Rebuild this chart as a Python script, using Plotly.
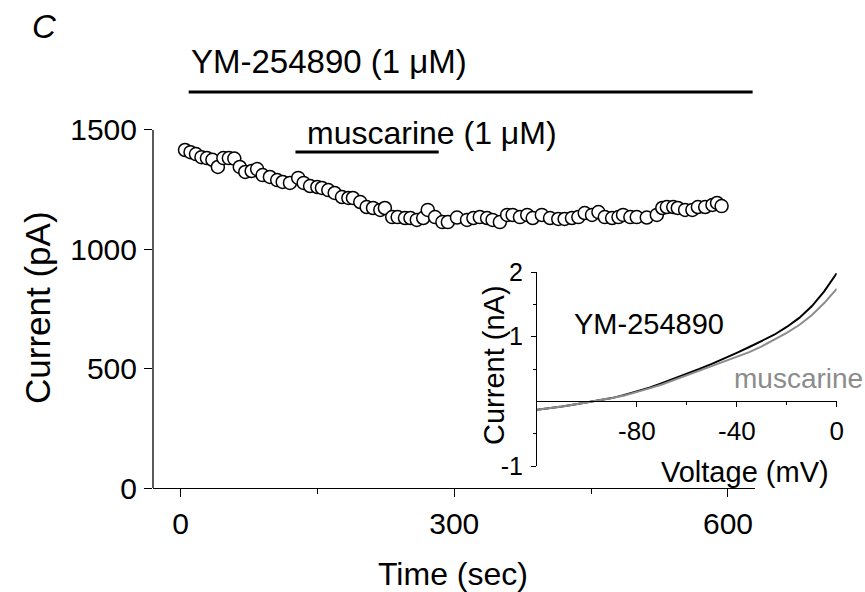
import plotly.graph_objects as go

# ---------------- data ----------------
time_s = [5, 11, 17, 23, 29, 35, 41, 47, 53, 59, 65, 71, 78, 84, 90, 98, 106, 112, 120, 129,
          135, 142, 150, 155, 162, 169, 177, 184, 189, 197, 204, 211, 219, 224, 232, 238, 246, 252, 259, 266,
          271, 279, 287, 293, 303, 314, 321, 328, 336, 342, 350, 358, 364, 372, 380, 386, 396, 405, 414, 421,
          429, 436, 443, 451, 458, 465, 473, 480, 485, 493, 500, 511, 522, 528, 533, 540, 545, 553, 561, 567,
          575, 583, 588, 593]
current_pA = [1416, 1407, 1399, 1386, 1382, 1375, 1345, 1382, 1382, 1380, 1345, 1324, 1328, 1336, 1311, 1303, 1290, 1282, 1278, 1299,
              1278, 1265, 1261, 1257, 1248, 1236, 1219, 1215, 1215, 1198, 1177, 1173, 1165, 1173, 1135, 1135, 1131, 1131, 1123, 1131,
              1165, 1135, 1114, 1114, 1133, 1123, 1131, 1135, 1131, 1123, 1114, 1144, 1144, 1135, 1144, 1131, 1144, 1131, 1127, 1127,
              1131, 1135, 1152, 1144, 1156, 1135, 1131, 1135, 1144, 1135, 1135, 1133, 1144, 1173, 1177, 1177, 1173, 1165, 1165, 1177,
              1177, 1186, 1194, 1181]

ym_period = [9, 627]          # YM-254890 application (sec)
ym_level = 1659
musc_period = [126, 283]      # muscarine application (sec)
musc_level = 1408

voltage_mV = [-120, -115, -110, -105, -100, -95, -90, -85, -80, -75, -70, -65, -60,
              -55, -50, -45, -40, -35, -30, -25, -20, -15, -10, -5, 0]
iv_ym_nA = [-0.13, -0.11, -0.08, -0.05, -0.02, 0.01, 0.05, 0.10, 0.15, 0.21, 0.28, 0.35, 0.42,
            0.50, 0.58, 0.66, 0.75, 0.84, 0.93, 1.03, 1.15, 1.29, 1.47, 1.70, 1.98]
iv_musc_nA = [-0.13, -0.11, -0.08, -0.05, -0.02, 0.01, 0.05, 0.09, 0.14, 0.20, 0.26, 0.33, 0.40,
              0.47, 0.54, 0.61, 0.68, 0.76, 0.85, 0.95, 1.06, 1.18, 1.33, 1.52, 1.74]

main_xticks = [0, 300, 600]
main_xminor = [150, 450]
main_yticks = [0, 500, 1000, 1500]
inset_xticks = [-80, -40, 0]
inset_xticktext = ["-80", "-40", "0"]
inset_xminor = [-60, -20]
inset_yticks = [-1, 1, 2]
inset_yticktext = ["-1", "1", "2"]
inset_yminor = [-0.5, 0.5, 1.5]

# ---------------- layout helpers ----------------
W, H = 865, 592
FONT = "Liberation Sans, Arial, sans-serif"


def fx(px):
    return px / W


def fy(py):
    return 1 - py / H


GRAY = "rgb(140,140,140)"

fig = go.Figure()

# main time course
fig.add_trace(go.Scatter(
    x=time_s, y=current_pA, mode="markers",
    marker=dict(symbol="circle", size=13, color="white",
                line=dict(color="black", width=1.5)),
    xaxis="x", yaxis="y", showlegend=False, cliponaxis=False))

# drug application bars
fig.add_trace(go.Scatter(x=ym_period, y=[ym_level, ym_level], mode="lines",
                         line=dict(color="black", width=3), xaxis="x", yaxis="y",
                         showlegend=False))
fig.add_trace(go.Scatter(x=musc_period, y=[musc_level, musc_level], mode="lines",
                         line=dict(color="black", width=3), xaxis="x", yaxis="y",
                         showlegend=False))

# inset I-V traces
fig.add_trace(go.Scatter(x=voltage_mV, y=iv_ym_nA, mode="lines",
                         line=dict(color="black", width=2), xaxis="x2", yaxis="y2",
                         showlegend=False))
fig.add_trace(go.Scatter(x=voltage_mV, y=iv_musc_nA, mode="lines",
                         line=dict(color=GRAY, width=2), xaxis="x2", yaxis="y2",
                         showlegend=False))

# main axes geometry
main_x_dom = [fx(153), fx(755)]
main_y_dom = [fy(488), fy(20)]
main_x_range = [-30.1, 629.6]
main_y_range = [0, 1960.6]

# inset geometry
in_x_dom = [fx(537), fx(836.7)]
in_y_dom = [fy(466), fy(272)]
in_y_range = [-1, 2]
zero_pos = in_y_dom[0] + (0 - in_y_range[0]) / (in_y_range[1] - in_y_range[0]) * (in_y_dom[1] - in_y_dom[0])

fig.update_layout(
    width=W, height=H,
    margin=dict(l=0, r=0, t=0, b=0, pad=0, autoexpand=False),
    paper_bgcolor="white", plot_bgcolor="rgba(0,0,0,0)",
    font=dict(family=FONT, color="black"),
    xaxis=dict(domain=main_x_dom, range=main_x_range, showgrid=False, zeroline=False,
               automargin=False,
               showline=True, linecolor="black", linewidth=1.3,
               tickmode="array", tickvals=main_xticks, ticks="outside", ticklen=8,
               tickwidth=1.3, tickcolor="black", tickfont=dict(size=30),
               ticklabelstandoff=1,
               minor=dict(tickmode="array", tickvals=main_xminor, ticks="outside",
                          ticklen=5, tickwidth=1.3, tickcolor="black"),
               anchor="y"),
    yaxis=dict(domain=main_y_dom, range=main_y_range, showgrid=False, zeroline=False,
               showline=False, automargin=False,
               tickmode="array", tickvals=main_yticks, ticks="outside", ticklen=8,
               tickwidth=1.3, tickcolor="black", tickfont=dict(size=30),
               ticklabelstandoff=1, anchor="x"),
    xaxis2=dict(domain=in_x_dom, range=[voltage_mV[0], voltage_mV[-1]], showgrid=False,
                zeroline=False, showline=True, linecolor="black", linewidth=1,
                anchor="free", position=zero_pos, automargin=False,
                tickmode="array", tickvals=inset_xticks, ticktext=inset_xticktext,
                ticks="outside", ticklen=5,
                tickwidth=1, tickcolor="black", tickfont=dict(size=26),
                ticklabelstandoff=1,
                minor=dict(tickmode="array", tickvals=inset_xminor, ticks="outside",
                           ticklen=3, tickwidth=1, tickcolor="black")),
    yaxis2=dict(domain=in_y_dom, range=in_y_range, showgrid=False, zeroline=False,
                showline=True, linecolor="black", linewidth=1, anchor="x2",
                automargin=False,
                tickmode="array", tickvals=inset_yticks, ticktext=inset_yticktext,
                ticks="outside", ticklen=5,
                tickwidth=1, tickcolor="black", tickfont=dict(size=25),
                ticklabelstandoff=3,
                minor=dict(tickmode="array", tickvals=inset_yminor, ticks="outside",
                           ticklen=3, tickwidth=1, tickcolor="black")),
    shapes=[
        # main y-axis line, from 0 to 1500 only
        dict(type="line", xref="x domain", yref="y", x0=0, x1=0,
             y0=main_yticks[0], y1=main_yticks[-1],
             line=dict(color="black", width=1.3)),
    ],
    annotations=[
        dict(text="<i>C</i>", x=fx(44), y=fy(26), xref="paper", yref="paper",
             xanchor="center", yanchor="middle",
             showarrow=False, font=dict(size=33)),
        dict(text="YM-254890 (1 μM)", x=ym_period[0], y=1785, xref="x", yref="y",
             xanchor="left", yanchor="middle", showarrow=False, font=dict(size=33)),
        dict(text="muscarine (1 μM)", x=musc_period[0] + 10, y=1487, xref="x", yref="y",
             xanchor="left", yanchor="middle", showarrow=False, font=dict(size=32)),
        dict(text="Time (sec)", x=fx(453), y=fy(574), xref="paper", yref="paper",
             xanchor="center", yanchor="middle",
             showarrow=False, font=dict(size=32)),
        dict(text="Current (pA)", x=fx(37), y=fy(308), xref="paper", yref="paper",
             xanchor="center", yanchor="middle",
             showarrow=False, textangle=-90, font=dict(size=35)),
        dict(text="Current (nA)", x=fx(494), y=fy(365), xref="paper", yref="paper",
             xanchor="center", yanchor="middle",
             showarrow=False, textangle=-90, font=dict(size=29)),
        dict(text="Voltage (mV)", x=fx(745), y=fy(472), xref="paper", yref="paper",
             xanchor="center", yanchor="middle",
             showarrow=False, font=dict(size=29)),
        dict(text="YM-254890", x=-75, y=1.2, xref="x2", yref="y2",
             xanchor="center", yanchor="middle",
             showarrow=False, font=dict(size=29)),
        dict(text="muscarine", x=fx(798), y=fy(378), xref="paper", yref="paper",
             xanchor="center", yanchor="middle",
             showarrow=False, font=dict(size=28, color=GRAY)),
    ],
)

fig.write_html("out.html", config={"displayModeBar": False},
               post_script="document.body.style.margin='0';")
